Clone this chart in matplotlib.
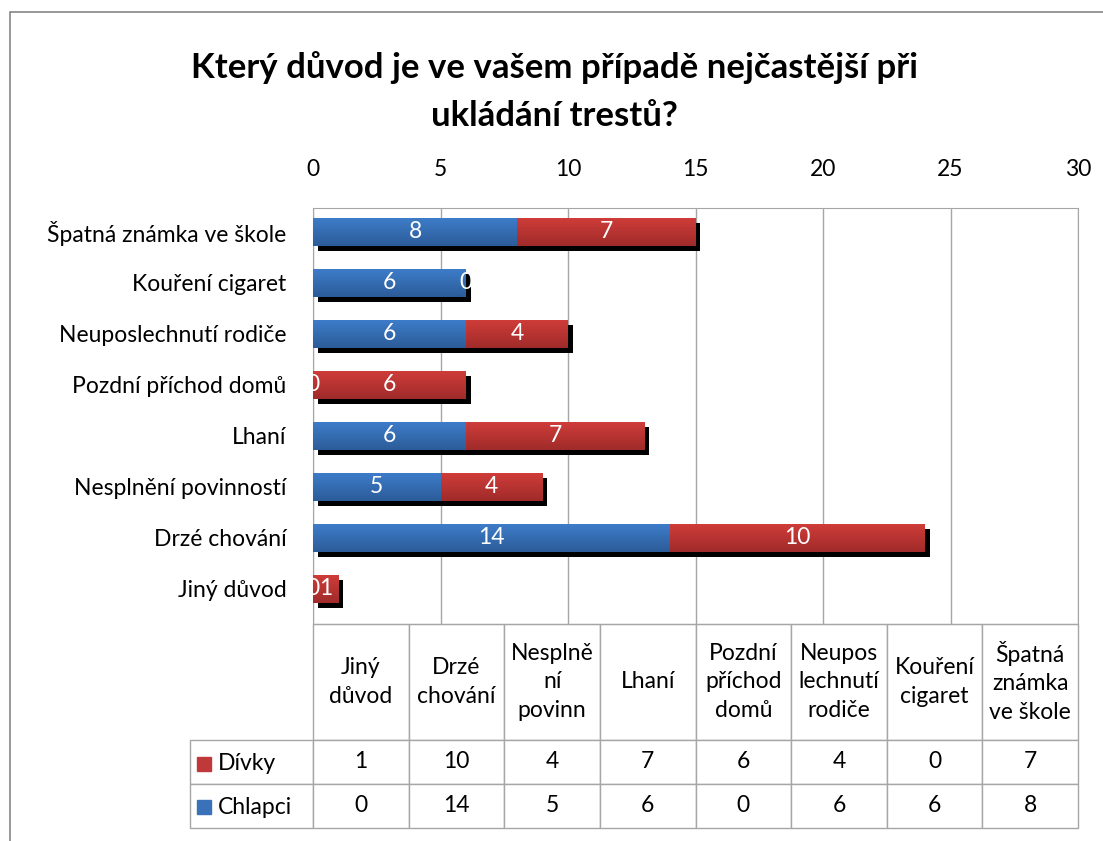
import numpy as np
import matplotlib
matplotlib.use("Agg")
import matplotlib.pyplot as plt
from matplotlib import patheffects
from matplotlib.colors import LinearSegmentedColormap
from matplotlib.patches import Rectangle
from matplotlib.table import Table

plt.rcParams['font.family'] = ['Lato', 'DejaVu Sans']

# categories top to bottom as in the chart
kategorie = ['Špatná známka ve škole', 'Kouření cigaret', 'Neuposlechnutí rodiče',
             'Pozdní příchod domů', 'Lhaní', 'Nesplnění povinností',
             'Drzé chování', 'Jiný důvod']
chlapci = [8, 6, 6, 0, 6, 5, 14, 0]
divky = [7, 0, 4, 6, 7, 4, 10, 1]
# table column headers (left to right = bottom to top of bars)
hlavicky = ['Jiný\ndůvod', 'Drzé\nchování', 'Nesplně\nní\npovinn', 'Lhaní',
            'Pozdní\npříchod\ndomů', 'Neupos\nlechnutí\nrodiče', 'Kouření\ncigaret',
            'Špatná\nznámka\nve škole']
xticks = [0, 5, 10, 15, 20, 25, 30]

W, H = 1103, 841
fs = 16.5
fig = plt.figure(figsize=(W / 100, H / 100), dpi=100)

# outer frame
fig.patches.append(Rectangle((10 / W, -0.1), 1.2, 1 - 12 / H + 0.1, transform=fig.transFigure,
                             fill=False, edgecolor='#868686', lw=1.2))

ax = fig.add_axes([313 / W, 1 - 624 / H, (1078 - 313) / W, (624 - 208) / H])

modra = LinearSegmentedColormap.from_list('m', ['#3e7dcb', '#2c5c99'])
cervena = LinearSegmentedColormap.from_list('c', ['#d03d3a', '#a02b2a'])

y = np.arange(len(kategorie))
stin = [patheffects.SimplePatchShadow(offset=(3.5, -3.5), shadow_rgbFace='black', alpha=1),
        patheffects.Normal()]
b1 = ax.barh(y, chlapci, height=0.55, color='#3a73bb', zorder=3, path_effects=stin)
b2 = ax.barh(y, divky, left=chlapci, height=0.55, color='#c43a37', zorder=3, path_effects=stin)

grad = np.linspace(0, 1, 50).reshape(-1, 1)
for bars, cm in [(b1, modra), (b2, cervena)]:
    for r in bars:
        if r.get_width() <= 0:
            continue
        x0, y0, w, h = r.get_x(), r.get_y(), r.get_width(), r.get_height()
        im = ax.imshow(grad, extent=(x0, x0 + w, y0 + h, y0), origin='upper', cmap=cm,
                       aspect='auto', zorder=3.5, interpolation='bilinear')
        im.set_clip_path(r)

for bars in (b1, b2):
    ax.bar_label(bars, label_type='center', color='white', fontsize=fs, zorder=5)
for t in ax.texts:
    t.set_zorder(5)

ax.set_xlim(0, 30)
ax.set_ylim(7.69, -0.47)
ax.set_xticks(xticks)
ax.set_yticks(y)
ax.set_yticklabels(kategorie, fontsize=fs)
ax.xaxis.tick_top()
ax.tick_params(axis='x', length=0, pad=20, labelsize=fs)
ax.tick_params(axis='y', length=0, pad=19)
ax.grid(axis='x', color='#a6a6a6', lw=1, zorder=0)
for s in ax.spines.values():
    s.set_color('#a6a6a6')

# data table below
tab = Table(ax, bbox=[(190 - 313) / 765, -(828 - 624) / 416, (1078 - 190) / 765, (828 - 624) / 416])
cw = 95.6
tab.add_cell(0, 0, width=123, height=116, text='').visible_edges = ''
for j, lab in enumerate(hlavicky):
    tab.add_cell(0, j + 1, width=cw, height=116, text=lab, loc='center')
rady = [('Dívky', divky[::-1], '#c0393a'), ('Chlapci', chlapci[::-1], '#3a72b9')]
for i, (nazev, vals, barva) in enumerate(rady):
    tab.add_cell(i + 1, 0, width=123, height=44, text='')
    for j, v in enumerate(vals):
        tab.add_cell(i + 1, j + 1, width=cw, height=44, text=str(v), loc='center')
tab.auto_set_font_size(False)
tab.set_fontsize(fs)
for c in tab.get_celld().values():
    c.set_edgecolor('#a6a6a6')
    c.set_linewidth(1)
    c.get_text().set_linespacing(1.45)
ax.add_table(tab)

for i, (nazev, vals, barva) in enumerate(rady):
    yy = 1 - (764 + 43 * i) / H
    fig.patches.append(Rectangle((197 / W, yy - 7 / H), 14 / W, 14 / H, transform=fig.transFigure,
                                 color=barva))
    fig.text(218 / W, yy, nazev, fontsize=fs, va='center', ha='left')

fig.text(0.503, 1 - 68 / H, 'Který důvod je ve vašem případě nejčastější při',
         fontsize=25, fontweight='bold', ha='center', va='center')
fig.text(0.503, 1 - 116 / H, 'ukládání trestů?',
         fontsize=25, fontweight='bold', ha='center', va='center')

fig.savefig('out.png', dpi=100)
